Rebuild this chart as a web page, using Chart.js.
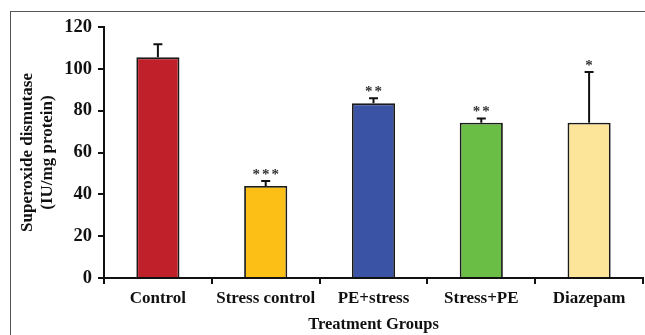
<!DOCTYPE html>
<html>
<head>
<meta charset="utf-8">
<script src="https://cdn.jsdelivr.net/npm/chart.js@4/dist/chart.umd.min.js"></script>
<style>
  html, body { margin: 0; padding: 0; background: #fff; }
  #wrap { position: relative; width: 645px; height: 335px; }
  #frame {
    position: absolute; left: 10px; top: 11px; right: 0; bottom: -2px;
    border-left: 1.5px solid #555; border-top: 1.5px solid #555;
  }
  canvas { position: absolute; left: 0; top: 0; }
</style>
</head>
<body>
<div id="wrap">
  <div id="frame"></div>
  <canvas id="sodChart" width="645" height="335"></canvas>
</div>
<script>
// --- Data ---
const groups = ["Control", "Stress control", "PE+stress", "Stress+PE", "Diazepam"];
const sodValues = [105.5, 44, 83.5, 74.2, 74.2];
const sodErrors = [6.2, 2.4, 2.4, 2.1, 24.3];
const stars = ["", "***", "**", "**", "*"];
const barColors = ["#c0202a", "#fbbf16", "#3a53a4", "#6abd45", "#fce498"];
const yTicks = [0, 20, 40, 60, 80, 100, 120];

const serif = "'Liberation Serif', 'Times New Roman', serif";

// --- Error bars + significance stars ---
const errorBarPlugin = {
  id: "errorBars",
  afterDatasetsDraw(chart) {
    const ctx = chart.ctx;
    const x = chart.scales.x, y = chart.scales.y;
    ctx.save();
    groups.forEach((g, i) => {
      const cx = x.getPixelForValue(i);
      const yTop = y.getPixelForValue(sodValues[i]);
      const yErr = y.getPixelForValue(sodValues[i] + sodErrors[i]);
      ctx.strokeStyle = "#111";
      ctx.lineWidth = 2;
      ctx.beginPath();
      ctx.moveTo(cx, yTop);
      ctx.lineTo(cx, yErr);
      ctx.moveTo(cx - 4.5, yErr);
      ctx.lineTo(cx + 4.5, yErr);
      ctx.stroke();
      if (stars[i]) {
        ctx.fillStyle = "#333";
        ctx.font = "bold 15px " + serif;
        ctx.letterSpacing = "2px";
        ctx.textAlign = "center";
        ctx.textBaseline = "alphabetic";
        ctx.fillText(stars[i], cx + 1, yErr - 2);
      }
    });
    ctx.restore();
  }
};

new Chart(document.getElementById("sodChart"), {
  type: "bar",
  data: {
    labels: groups,
    datasets: [{
      data: sodValues,
      backgroundColor: barColors,
      borderColor: "#1a1a1a",
      borderWidth: 1.8,
      barPercentage: 0.4,
      categoryPercentage: 1
    }]
  },
  options: {
    responsive: false,
    animation: false,
    layout: { padding: { top: 27, right: 2, left: 0, bottom: 0 } },
    plugins: { legend: { display: false }, tooltip: { enabled: false } },
    scales: {
      x: {
        afterFit: s => { s.height = 57; },
        border: { color: "#111", width: 2 },
        grid: { offset: true, drawOnChartArea: false, tickLength: 6, color: "#111", lineWidth: 2 },
        ticks: { color: "#111", font: { family: serif, size: 17, weight: "bold" }, padding: 4, maxRotation: 0 },
        title: { display: true, text: "Treatment Groups", color: "#111",
                 font: { family: serif, size: 16.5, weight: "bold" }, padding: { top: 0, bottom: 0 } }
      },
      y: {
        min: 0, max: 120,
        afterFit: s => { s.width = 104; },
        afterBuildTicks: s => { s.ticks = yTicks.map(v => ({ value: v })); },
        border: { color: "#111", width: 2 },
        grid: { drawOnChartArea: false, tickLength: 6, color: "#111", lineWidth: 2 },
        ticks: { color: "#111", font: { family: serif, size: 18.5, weight: "bold" }, padding: 6 },
        title: { display: true, text: ["Superoxide dismutase", "(IU/mg protein)"], color: "#111",
                 font: { family: serif, size: 17, weight: "bold" }, padding: { top: 17, bottom: 0 } }
      }
    }
  },
  plugins: [errorBarPlugin]
});
</script>
</body>
</html>
